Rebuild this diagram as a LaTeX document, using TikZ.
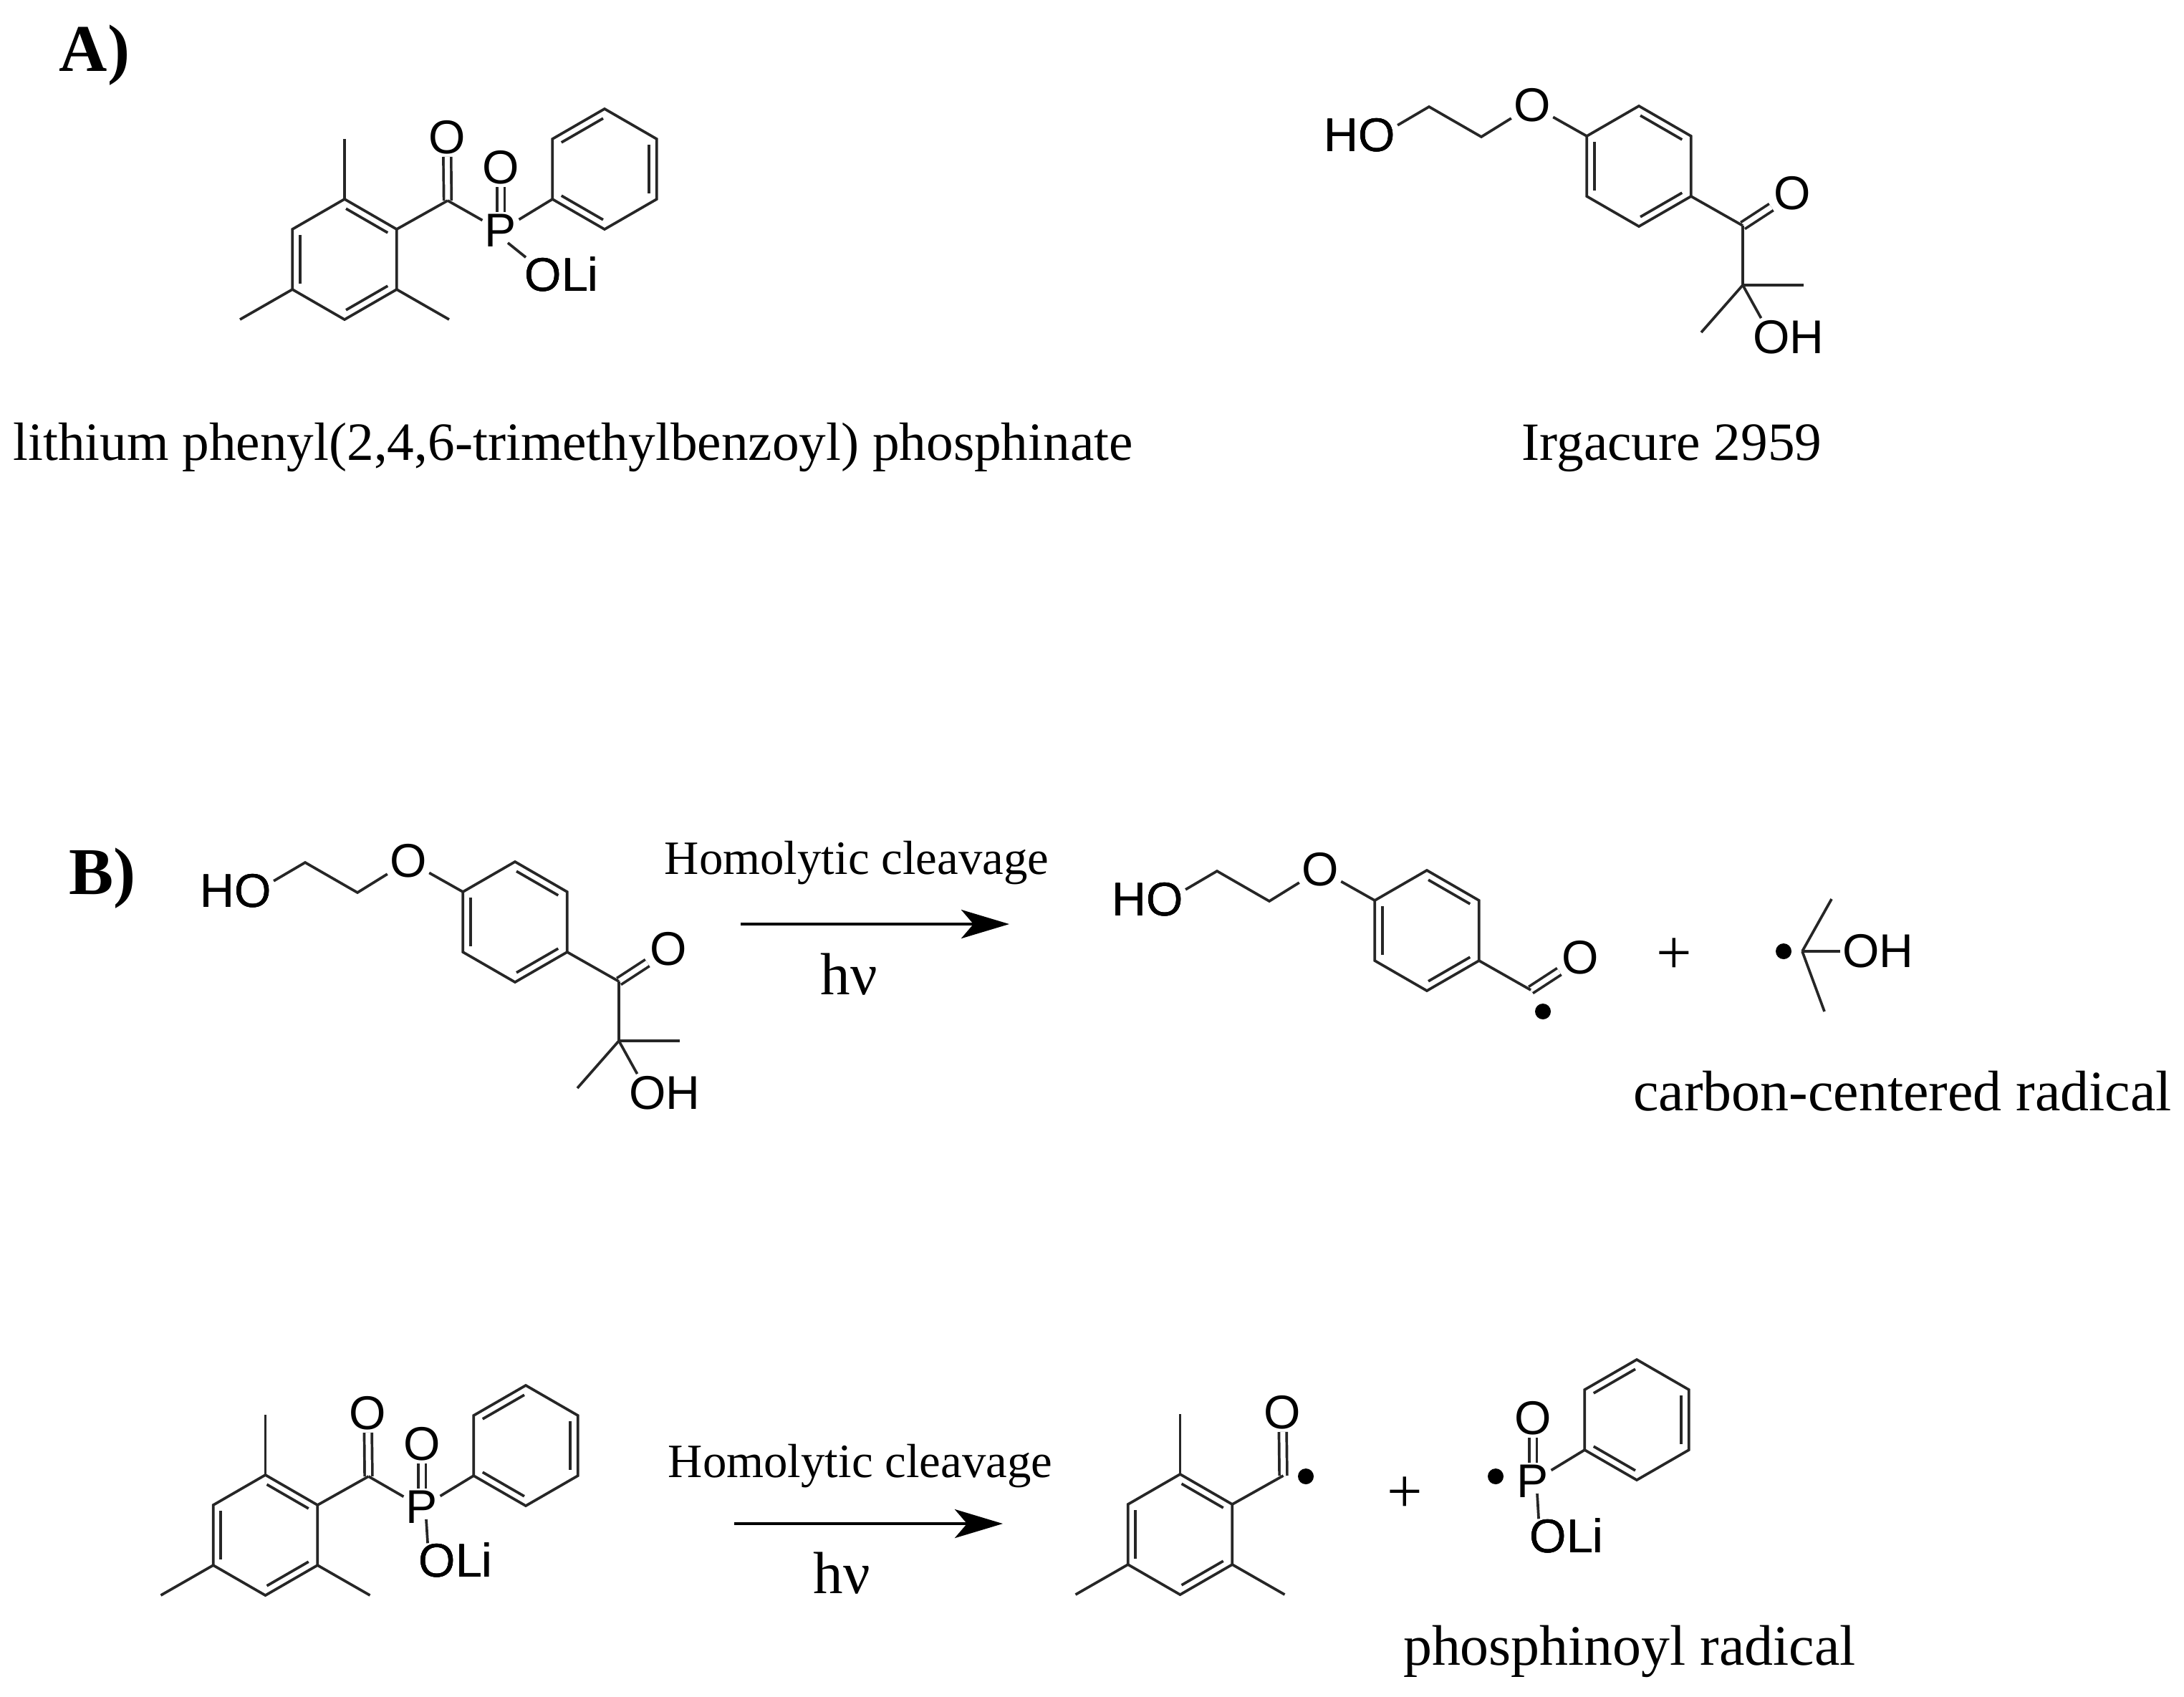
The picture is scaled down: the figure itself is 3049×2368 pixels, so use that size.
\documentclass[tikz,border=0pt]{standalone}
\usepackage{fontspec}
\setmainfont{Liberation Serif}
\newfontfamily\atomfont{Liberation Sans}
\usepackage{tikz}
\usetikzlibrary{arrows.meta}
\usetikzlibrary{calc}

% inner line of a ring double bond, ring walked clockwise
\newcommand{\ringbond}[2]{\draw[bond] ($(#1)!.1!(#2)!.105cm!-90:(#2)$) -- ($(#2)!.1!(#1)!.105cm!90:(#1)$);}

% #1 name, #2 centre, #3 edges with an inner line
\newcommand{\hexring}[3]{
	\foreach \k in {1,...,6}
		\coordinate (#1\k) at ([shift={(#2)}]{150-60*\k}:0.84cm);
	\draw[bond] (#11) -- (#12) -- (#13) -- (#14) -- (#15) -- (#16) -- cycle;
	\foreach \a/\b in {#3}
		\ringbond{#1\a}{#1\b}
}

% hydroxyethoxy ring with its carbonyl
\newcommand{\etherring}[1]{
	\hexring{#1r}{0,0}{1/2,3/4,5/6}
	\node[atom] (#1ho) at (-390,-43) {HO};
	\coordinate (#1a) at (-293,-83);
	\coordinate (#1b) at (-220,-41);
	\node[atom] (#1e) at (-149,-85) {O};
	\coordinate (#1c) at (145,83);
	\node[atom] (#1o) at (214,38) {O};
	\draw[dblbond] (#1c) -- (#1o);
	\draw[bond] (#1ho.15) -- (#1a) -- (#1b) -- (#1e) -- (#1r6);
	\draw[bond] (#1r3) -- (#1c);
}

% the rest of Irgacure
\newcommand{\hydroxypropyl}[1]{
	\coordinate (#1q) at (145,166);
	\coordinate (#1m) at (230,166);
	\coordinate (#1n) at (87,232);
	\node[atom] (#1oh) at (209,239) {OH};
	\draw[bond] (#1c) -- (#1q);
	\draw[bond] (#1q) -- (#1m);
	\draw[bond] (#1q) -- (#1n);
	\draw[bond] (#1q) -- (#1oh.145);
}

% trimethylbenzoyl
\newcommand{\mesityl}[1]{
	\hexring{#1r}{0,0}{1/2,3/4,5/6}
	\coordinate (#1t) at (0,-168);
	\coordinate (#1l) at (-146,84);
	\coordinate (#1d) at (146,84);
	\coordinate (#1c) at (144,-82);
	\node[atom] (#1o) at (143,-170) {O};
	\draw[dblbond] (#1c) -- (#1o);
	\draw[bond] (#1r1) -- (#1t);
	\draw[bond] (#1r5) -- (#1l);
	\draw[bond] (#1r3) -- (#1d);
	\draw[bond] (#1r2) -- (#1c);
}

% #1 name, #2 place of OLi, #3 shift of the bond end on OLi, #4 shift of its start under P
\newcommand{\phosphinoyl}[4]{
	\node[atom] (#1p) at (0,0) {P};
	\node[atom] (#1o) at (0,-88) {O};
	\hexring{#1r}{145,-86}{6/1,2/3,4/5}
	\node[atom] (#1li) at (#2) {OLi};
	\draw[dblbond] (#1p) -- (#1o);
	\draw[bond] (#1p) -- (#1r5);
	\draw[bond] ([xshift=#4,yshift=-0.17cm]#1p.center) -- ([xshift=#3,yshift=-0.04cm]#1li.north west);
}

\begin{document}
\begin{tikzpicture}[x=0.01cm, y=-0.01cm,
		atom/.style = {font=\atomfont\fontsize{18.8}{20}\selectfont, inner sep=0pt, outer sep=0.035cm},
		bond/.style = {line width=0.037cm, black!85},
		dblbond/.style = {bond, double, double distance=0.07cm},
		radical/.style = {circle, fill=black, inner sep=0pt, minimum size=0.22cm},
		caption/.style = {anchor=base, font=\fontsize{21.4}{24}\selectfont},
		radname/.style = {anchor=base, font=\fontsize{22.7}{25}\selectfont},
		reagent/.style = {anchor=base, font=\fontsize{19}{22}\selectfont},
		light/.style = {anchor=base, font=\fontsize{23.6}{26}\selectfont},
		panel/.style = {anchor=base, font=\bfseries\fontsize{26.5}{30}\selectfont},
		plus/.style = {font=\fontsize{25}{28}\selectfont, inner sep=0pt},
		reaction/.style = {line width=0.045cm, -{Stealth[length=0.67cm, width=0.40cm, inset=0.17cm]}}]

	\useasboundingbox (0,0) rectangle (3049,2368);

	% Panel A
	\node[panel] (panelA) at (132,99) {A)};

	\begin{scope}[shift={(481,362)}]
		\mesityl{ma}
	\end{scope}
	\begin{scope}[shift={(699,322)}]
		\phosphinoyl{pa}{85,61}{0.05cm}{0.10cm}
	\end{scope}
	\draw[bond] (mac) -- (pap);
	\node[caption] (nameLi) at (800,642) {lithium phenyl(2,4,6-trimethylbenzoyl) phosphinate};

	\begin{scope}[shift={(2288,232)}]
		\etherring{ia}
		\hydroxypropyl{ia}
	\end{scope}
	\node[caption] (nameIr) at (2334,642) {Irgacure 2959};

	% Panel B, first reaction
	\node[panel] (panelB) at (143,1248) {B)};

	\begin{scope}[shift={(719,1287)}]
		\etherring{ib}
		\hydroxypropyl{ib}
	\end{scope}

	\coordinate (arrowAs) at (1034,1290);
	\coordinate (arrowAe) at (1409,1290);
	\draw[reaction] (arrowAs) -- (arrowAe);
	\node[reagent] (cleaveA) at (1196,1220) {Homolytic cleavage};
	\node[light] (lightA) at (1185,1388) {hν};

	\begin{scope}[shift={(1992,1299)}]
		\etherring{ic}
	\end{scope}
	\node[radical] (dotA) at (2154,1412) {};
	\node[plus] (plusA) at (2337,1335) {+};
	\node[radical] (dotB) at (2490,1328) {};

	% Hydroxypropyl radical
	\coordinate (kc) at (2516,1328);
	\coordinate (kt) at (2557,1255);
	\coordinate (kd) at (2547,1412);
	\node[atom] (koh) at (2622,1328) {OH};
	\draw[bond] (kc) -- (kt);
	\draw[bond] (kc) -- (kd);
	\draw[bond] (kc) -- (koh);
	\node[radname] (nameC) at (2656,1550) {carbon-centered radical};

	% Panel B, second reaction
	\begin{scope}[shift={(370.5,2143)}]
		\mesityl{mb}
	\end{scope}
	\begin{scope}[shift={(589,2104)}]
		\phosphinoyl{pb}{47,74}{0.16cm}{0.06cm}
	\end{scope}
	\draw[bond] (mbc) -- (pbp);

	\coordinate (arrowBs) at (1025,2127);
	\coordinate (arrowBe) at (1400,2127);
	\draw[reaction] (arrowBs) -- (arrowBe);
	\node[reagent] (cleaveB) at (1201,2062) {Homolytic cleavage};
	\node[light] (lightB) at (1175,2224) {hν};

	\begin{scope}[shift={(1647.5,2142)}]
		\mesityl{mc}
	\end{scope}
	\node[radical] (dotC) at (1823,2061) {};
	\node[plus] (plusB) at (1961,2087) {+};
	\node[radical] (dotD) at (2088,2061) {};

	\begin{scope}[shift={(2140,2068)}]
		\phosphinoyl{pc}{47,76}{0.16cm}{0.06cm}
	\end{scope}
	\node[radname] (nameP) at (2275,2324) {phosphinoyl radical};

\end{tikzpicture}
\end{document}
